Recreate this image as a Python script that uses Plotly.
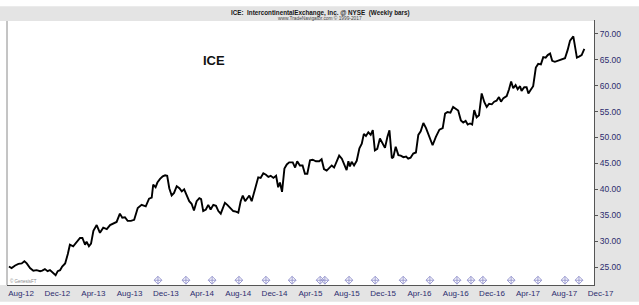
import plotly.graph_objects as go
import pandas as pd

# ---------------- data (weekly closes) ----------------
dates_2012 = ["2012-08-04", "2012-08-13", "2012-08-25", "2012-09-05", "2012-09-16", "2012-09-25",
              "2012-10-03", "2012-10-14", "2012-10-25", "2012-11-05", "2012-11-17", "2012-11-24",
              "2012-12-03", "2012-12-12", "2012-12-20", "2012-12-28"]
close_2012 = [25.1, 24.8, 25.3, 25.6, 25.7, 26.1, 25.7, 24.8, 24.3, 24.4, 24.2, 24.3,
              24.6, 24.2, 24.4, 24.0]

dates_2013 = ["2013-01-08", "2013-01-15", "2013-01-23", "2013-01-30", "2013-02-09", "2013-02-18",
              "2013-02-25", "2013-03-08", "2013-03-20", "2013-03-31", "2013-04-08", "2013-04-17",
              "2013-04-22", "2013-04-30", "2013-05-07", "2013-05-15", "2013-05-26", "2013-06-06",
              "2013-06-17", "2013-06-29", "2013-07-10", "2013-07-21", "2013-08-01", "2013-08-12",
              "2013-08-20", "2013-08-29", "2013-09-07", "2013-09-18", "2013-09-29", "2013-10-11",
              "2013-10-24", "2013-11-07", "2013-11-18", "2013-11-27", "2013-12-02", "2013-12-10",
              "2013-12-16", "2013-12-25"]
close_2013 = [23.4, 24.2, 24.4, 25.1, 25.7, 27.5, 29.3, 29.0, 29.9, 30.6, 30.6, 29.3,
              29.9, 29.0, 29.5, 32.0, 33.1, 31.6, 32.6, 32.3, 33.1, 33.4, 33.7, 35.3,
              34.5, 34.6, 33.9, 33.9, 34.1, 36.4, 37.0, 36.7, 38.2, 38.4, 40.9, 40.4,
              41.3, 42.0]

dates_2014 = ["2014-01-03", "2014-01-11", "2014-01-18", "2014-01-25", "2014-02-02", "2014-02-10",
              "2014-02-19", "2014-02-28", "2014-03-08", "2014-03-16", "2014-03-25", "2014-04-02",
              "2014-04-10", "2014-04-18", "2014-04-27", "2014-05-06", "2014-05-12", "2014-05-19",
              "2014-05-28", "2014-06-05", "2014-06-13", "2014-06-22", "2014-07-01", "2014-07-09",
              "2014-07-17", "2014-07-24", "2014-07-31", "2014-08-08", "2014-08-17", "2014-08-28",
              "2014-09-06", "2014-09-14", "2014-09-22", "2014-09-29", "2014-10-07", "2014-10-14",
              "2014-10-21", "2014-10-29", "2014-11-06", "2014-11-15", "2014-11-20", "2014-11-28",
              "2014-12-07", "2014-12-16", "2014-12-24"]
close_2014 = [42.5, 42.7, 42.6, 40.2, 38.8, 39.3, 40.6, 40.2, 39.6, 40.0, 38.9, 37.7,
              37.2, 35.9, 37.7, 38.3, 38.1, 35.8, 36.1, 37.0, 36.1, 37.0, 36.8, 35.8,
              35.3, 36.4, 37.4, 37.0, 36.5, 35.8, 35.7, 35.5, 37.7, 38.8, 37.7, 38.3,
              38.8, 37.7, 39.3, 40.9, 42.3, 42.2, 43.1, 42.8, 42.4]

dates_2015 = ["2015-01-01", "2015-01-10", "2015-01-19", "2015-01-26", "2015-02-01", "2015-02-08",
              "2015-02-16", "2015-02-24", "2015-03-04", "2015-03-16", "2015-03-24", "2015-03-31",
              "2015-04-09", "2015-04-18", "2015-04-26", "2015-05-04", "2015-05-13", "2015-05-22",
              "2015-06-02", "2015-06-13", "2015-06-21", "2015-06-29", "2015-07-08", "2015-07-17",
              "2015-07-25", "2015-08-02", "2015-08-11", "2015-08-19", "2015-08-28", "2015-09-04",
              "2015-09-13", "2015-09-19", "2015-09-24", "2015-09-30", "2015-10-08", "2015-10-17",
              "2015-10-26", "2015-11-03", "2015-11-10", "2015-11-17", "2015-11-25", "2015-12-03",
              "2015-12-10", "2015-12-17", "2015-12-25"]
close_2015 = [42.6, 42.2, 42.6, 40.4, 41.3, 39.5, 44.0, 44.8, 45.2, 45.2, 44.2, 45.4,
              44.6, 44.6, 43.0, 43.0, 45.6, 45.7, 45.4, 45.4, 45.8, 43.9, 43.6, 44.1,
              44.6, 44.2, 45.3, 46.5, 45.9, 44.8, 43.7, 45.4, 44.4, 45.3, 44.6, 45.5,
              47.9, 48.8, 50.7, 50.3, 51.0, 50.5, 51.4, 47.5, 47.8]

dates_2016 = ["2016-01-03", "2016-01-12", "2016-01-20", "2016-01-28", "2016-02-04", "2016-02-12",
              "2016-02-17", "2016-02-25", "2016-03-05", "2016-03-13", "2016-03-22", "2016-03-31",
              "2016-04-07", "2016-04-15", "2016-04-24", "2016-05-03", "2016-05-11", "2016-05-19",
              "2016-05-28", "2016-06-06", "2016-06-17", "2016-06-28", "2016-07-09", "2016-07-21",
              "2016-08-01", "2016-08-09", "2016-08-17", "2016-08-27", "2016-09-05", "2016-09-13",
              "2016-09-22", "2016-10-01", "2016-10-09", "2016-10-17", "2016-10-24", "2016-11-01",
              "2016-11-08", "2016-11-15", "2016-11-23", "2016-12-01", "2016-12-10", "2016-12-19",
              "2016-12-27"]
close_2016 = [49.8, 48.9, 48.0, 50.1, 51.4, 46.0, 46.2, 48.2, 46.6, 46.5, 46.2, 46.3,
              45.9, 46.1, 46.9, 47.1, 50.5, 51.2, 52.8, 51.8, 50.1, 48.5, 50.1, 51.5,
              51.8, 54.6, 54.9, 54.8, 55.9, 55.6, 55.2, 53.3, 52.9, 53.2, 52.5, 52.7,
              52.5, 55.3, 53.9, 54.3, 58.5, 56.8, 55.9]

dates_2017 = ["2017-01-04", "2017-01-13", "2017-01-21", "2017-01-29", "2017-02-06", "2017-02-13",
              "2017-02-21", "2017-03-04", "2017-03-12", "2017-03-19", "2017-03-26", "2017-04-03",
              "2017-04-10", "2017-04-18", "2017-04-23", "2017-05-02", "2017-05-10", "2017-05-16",
              "2017-05-25", "2017-06-01", "2017-06-10", "2017-06-18", "2017-06-27", "2017-07-05",
              "2017-07-13", "2017-07-20", "2017-07-28", "2017-08-04", "2017-08-13", "2017-08-23",
              "2017-08-30", "2017-09-07", "2017-09-16", "2017-09-25", "2017-10-03", "2017-10-14",
              "2017-10-20", "2017-10-26", "2017-11-02", "2017-11-11", "2017-11-20"]
close_2017 = [56.5, 56.4, 56.9, 57.1, 57.8, 56.9, 57.6, 58.0, 59.3, 60.8, 59.5, 60.1,
              59.3, 59.9, 59.0, 59.7, 59.7, 58.5, 59.3, 59.9, 63.5, 64.2, 64.1, 65.5,
              65.4, 65.9, 66.2, 64.8, 64.6, 64.8, 65.0, 65.2, 65.3, 66.9, 68.7, 69.5,
              67.3, 65.4, 65.6, 65.9, 67.1]

# event markers (diamonds along the bottom)
event_dates = ["2013-12-18", "2014-03-22", "2014-06-18", "2014-09-16", "2014-12-16", "2015-03-14",
               "2015-06-16", "2015-07-02", "2015-09-21", "2015-12-18", "2016-03-21", "2016-06-19",
               "2016-09-18", "2016-11-04", "2016-12-14", "2017-03-19", "2017-06-17", "2017-09-16",
               "2017-11-02"]

# axis ticks
x_tick_dates = ["2012-08-01", "2012-12-01", "2013-04-01", "2013-08-01", "2013-12-01", "2014-04-01",
                "2014-08-01", "2014-12-01", "2015-04-01", "2015-08-01", "2015-12-01", "2016-04-01",
                "2016-08-01", "2016-12-01", "2017-04-01", "2017-08-01", "2017-12-01"]
x_tick_text = ["Aug-12", "Dec-12", "Apr-13", "Aug-13", "Dec-13", "Apr-14", "Aug-14", "Dec-14",
               "Apr-15", "Aug-15", "Dec-15", "Apr-16", "Aug-16", "Dec-16", "Apr-17", "Aug-17", "Dec-17"]
y_tick_vals = [25, 30, 35, 40, 45, 50, 55, 60, 65, 70]
y_tick_text = [f"{v:.2f}" for v in y_tick_vals]

dates = dates_2012 + dates_2013 + dates_2014 + dates_2015 + dates_2016 + dates_2017
closes = close_2012 + close_2013 + close_2014 + close_2015 + close_2016 + close_2017

# ---------------- figure ----------------
W, H = 639, 305
ML, MR, MT, MB = 7, 45, 20, 17
PW, PH = W - ML - MR, H - MT - MB


def px_x(p):
    return (p - ML) / PW


def px_y(p):
    return (H - MB - p) / PH


FONT = "Liberation Sans, Arial, sans-serif"
NAVY = "#2c2c6e"
GRAY = "#e4e4e4"

fig = go.Figure()
fig.add_trace(go.Scatter(
    x=pd.to_datetime(dates), y=closes, mode="lines",
    line=dict(color="#000000", width=1.9), hoverinfo="skip"))
fig.add_trace(go.Scatter(
    x=pd.to_datetime(event_dates), y=[0.018] * len(event_dates), yaxis="y2",
    mode="markers", hoverinfo="skip",
    marker=dict(symbol="diamond-cross-open", size=6, color="#9a9ad0",
                line=dict(width=1, color="#9a9ad0"))))

shapes = [
    dict(type="rect", xref="paper", yref="paper", x0=px_x(0), x1=px_x(W), y0=px_y(21), y1=px_y(6),
         fillcolor=GRAY, line=dict(width=0), layer="below"),
    dict(type="rect", xref="paper", yref="paper", x0=1, x1=px_x(W), y0=px_y(H), y1=px_y(21),
         fillcolor=GRAY, line=dict(width=0), layer="below"),
    dict(type="rect", xref="paper", yref="paper", x0=px_x(0), x1=1, y0=px_y(H), y1=0,
         fillcolor=GRAY, line=dict(width=0), layer="below"),
    dict(type="line", xref="paper", yref="paper", x0=0, x1=0, y0=0, y1=px_y(21),
         line=dict(color="#8a8a8a", width=1)),
]

annotations = [
    dict(text="<b>ICE:&nbsp; IntercontinentalExchange, Inc. @ NYSE&nbsp; (Weekly bars)</b>",
         xref="paper", yref="paper", x=px_x(320), y=px_y(12.5), xanchor="center", yanchor="middle",
         showarrow=False, font=dict(family=FONT, size=6.3, color="#151515")),
    dict(text="www.TradeNavigator.com © 1999-2017",
         xref="paper", yref="paper", x=px_x(320), y=px_y(18), xanchor="center", yanchor="middle",
         showarrow=False, font=dict(family=FONT, size=4.8, color="#444444")),
    dict(text="<b>ICE</b>", xref="paper", yref="paper", x=px_x(214), y=px_y(61),
         xanchor="center", yanchor="middle", showarrow=False,
         font=dict(family=FONT, size=13, color="#111111")),
    dict(text="© GenesisFT", xref="paper", yref="paper", x=px_x(8), y=px_y(284),
         xanchor="left", yanchor="middle", showarrow=False,
         font=dict(family=FONT, size=4.5, color="#888888")),
]

fig.update_layout(
    width=W, height=H, autosize=False,
    margin=dict(l=ML, r=MR, t=MT, b=MB, pad=0),
    paper_bgcolor="#ffffff", plot_bgcolor="#ffffff",
    showlegend=False,
    shapes=shapes, annotations=annotations,
    xaxis=dict(
        type="date", range=["2012-07-28 14:00", "2017-12-22 12:00"],
        tickmode="array", tickvals=pd.to_datetime(x_tick_dates), ticktext=x_tick_text,
        ticks="", showgrid=False, zeroline=False,
        showline=True, linecolor="#555555", linewidth=1,
        ticklabelshift=13,
        tickfont=dict(family=FONT, size=8, color=NAVY),
    ),
    yaxis=dict(
        side="right", range=[21.53, 72.67],
        tickmode="array", tickvals=y_tick_vals, ticktext=y_tick_text,
        ticks="outside", ticklen=3, tickcolor="#555555", tickwidth=1,
        showgrid=False, zeroline=False,
        showline=True, linecolor="#555555", linewidth=1,
        tickfont=dict(family=FONT, size=8.5, color=NAVY),
    ),
    yaxis2=dict(overlaying="y", range=[0, 1], visible=False),
)

fig.write_html("out.html", config={"displayModeBar": False})
